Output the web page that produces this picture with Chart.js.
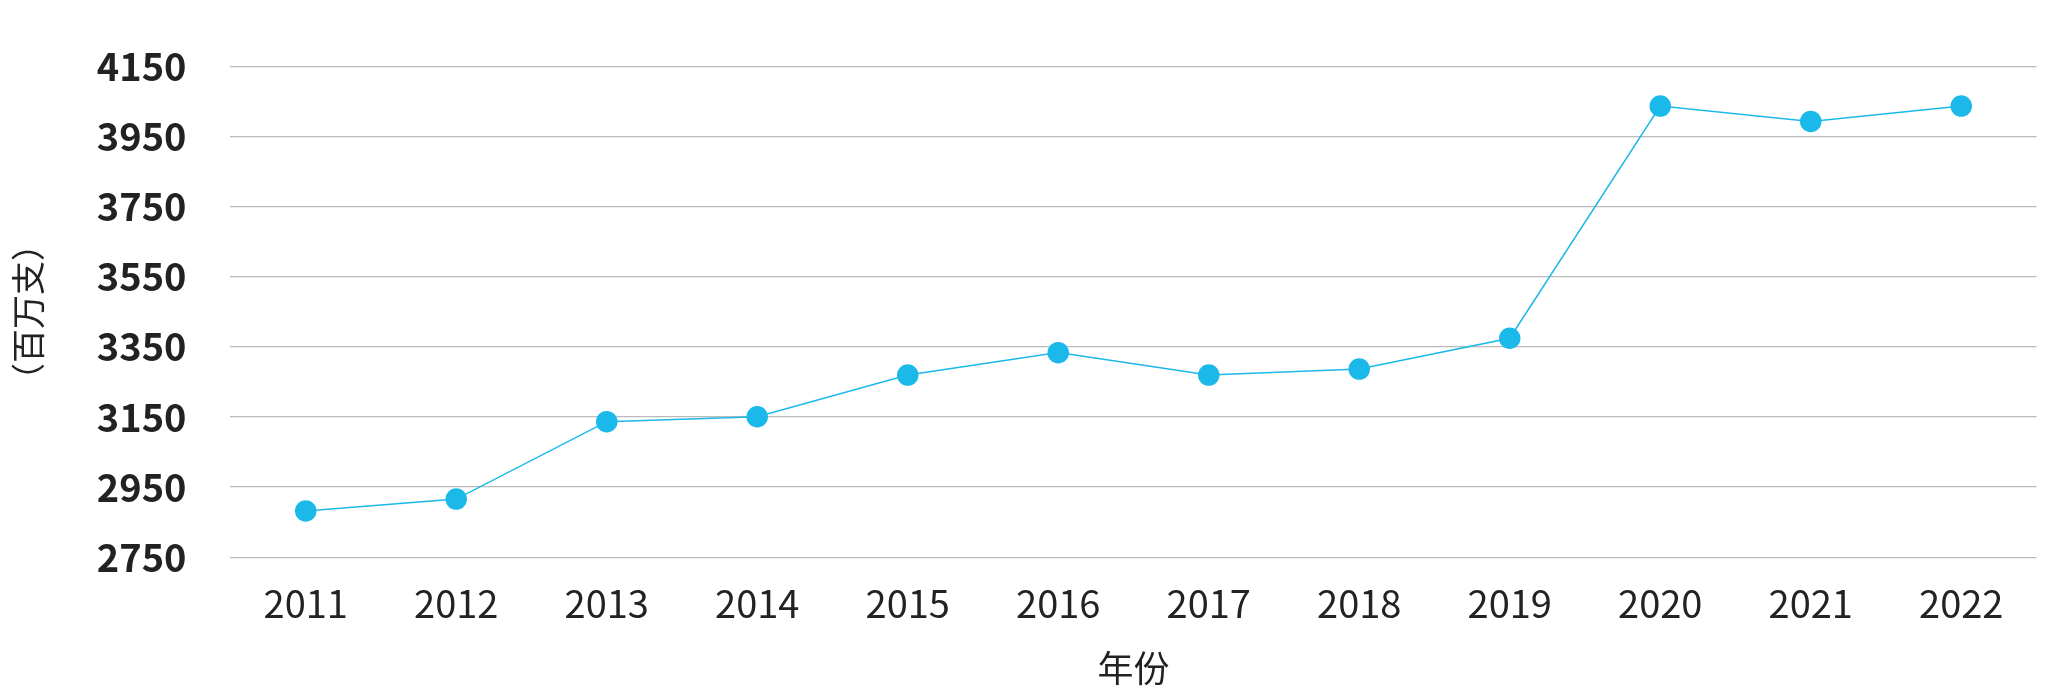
<!DOCTYPE html>
<html lang="zh">
<head>
<meta charset="UTF-8">
<script src="https://cdn.jsdelivr.net/npm/chart.js"></script>
<style>
  body { margin: 0; background: #fff; }
  #wrap { width: 2048px; height: 694px; }
</style>
</head>
<body>
<div id="wrap"><canvas id="c"></canvas></div>
<script>
const years = ['2011','2012','2013','2014','2015','2016','2017','2018','2019','2020','2021','2022'];
const values = [2882, 2916, 3137, 3151, 3270, 3334, 3270, 3287, 3375, 4038, 3994, 4038];
const yMin = 2750, yMax = 4150, yStep = 200;

new Chart(document.getElementById('c'), {
  type: 'line',
  data: {
    labels: years,
    datasets: [{
      data: values,
      borderColor: '#1bb9e9',
      backgroundColor: '#1bb9e9',
      borderWidth: 1.5,
      pointRadius: 10,
      pointHoverRadius: 10,
      tension: 0
    }]
  },
  options: {
    responsive: true,
    maintainAspectRatio: false,
    animation: false,
    layout: { padding: { top: 0, right: 6, left: 4, bottom: 0 } },
    plugins: { legend: { display: false }, tooltip: { enabled: false } },
    scales: {
      x: {
        offset: true,
        grid: { display: false },
        border: { display: false },
        ticks: { color: '#222', font: { family: 'Noto Sans CJK SC', size: 38 }, padding: 16 },
        title: { display: true, text: '年份', color: '#222', font: { family: 'Noto Sans CJK SC', size: 36 }, padding: { top: 4 } }
      },
      y: {
        min: yMin, max: yMax,
        grid: { color: '#bbb', lineWidth: 1.3, drawTicks: false },
        border: { display: false },
        ticks: {
          stepSize: yStep, color: '#222', padding: 44,
          font: { family: 'Noto Sans CJK SC', size: 38, weight: 'bold' },
          callback: v => String(v)
        },
        title: { display: true, text: '（百万支）', color: '#222', font: { family: 'Noto Sans CJK SC', size: 34 }, padding: { bottom: 4 } }
      }
    }
  }
});
</script>
</body>
</html>
